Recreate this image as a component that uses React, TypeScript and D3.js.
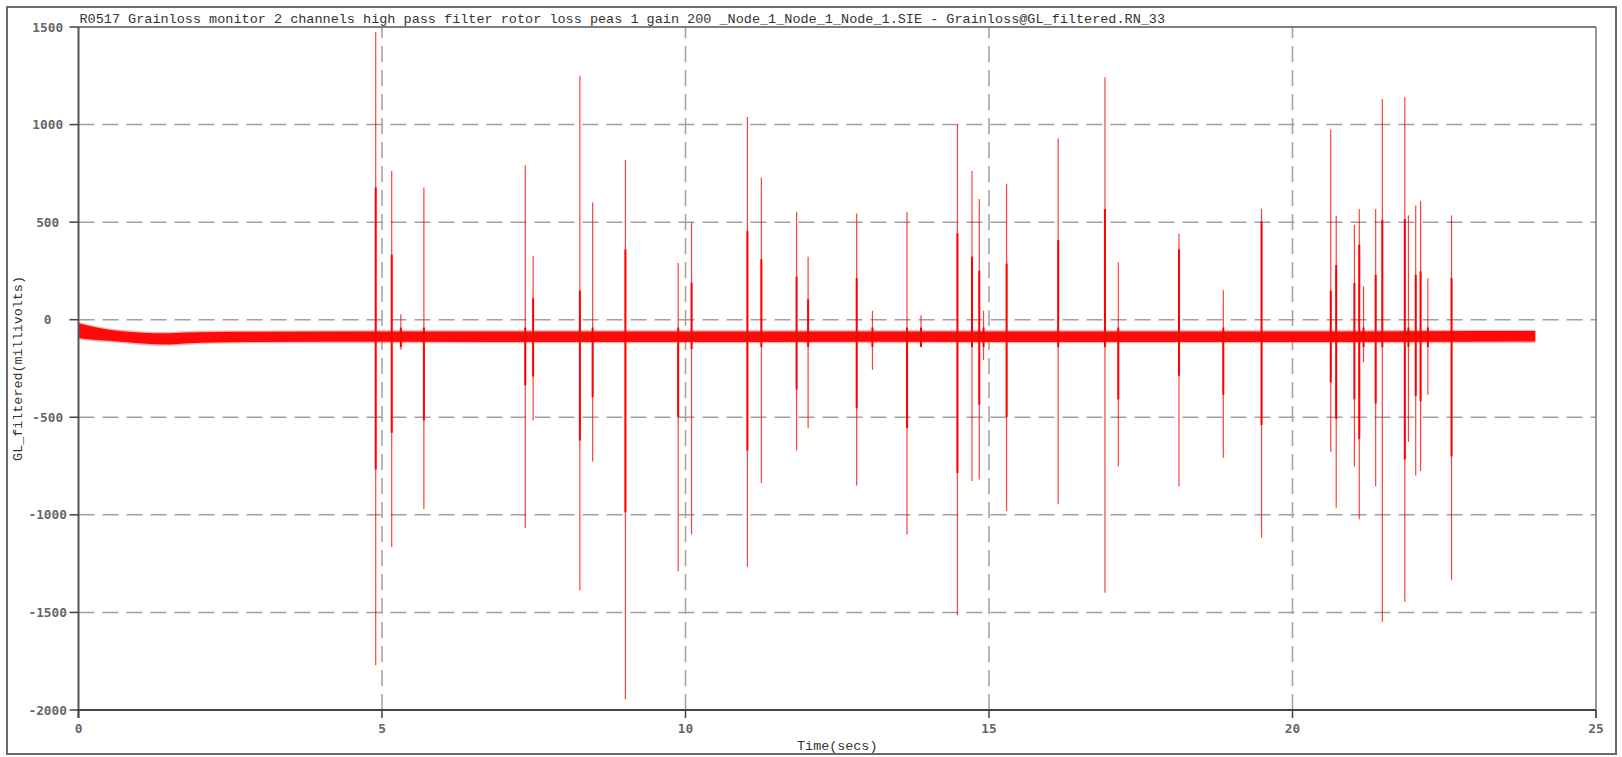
import React, { useEffect } from "react";
import * as d3 from "d3";

// ---------- data ----------
const titleText =
  "R0517 Grainloss monitor 2 channels high pass filter rotor loss peas 1 gain 200 _Node_1_Node_1_Node_1.SIE - Grainloss@GL_filtered.RN_33";
const xLabel = "Time(secs)";
const yLabel = "GL_filtered(millivolts)";

const xTicks = [0, 5, 10, 15, 20, 25];
const yTicks = [-2000, -1500, -1000, -500, 0, 500, 1000, 1500];
const xGrid = [5, 10, 15, 20];
const yGrid = [-1500, -1000, -500, 0, 500, 1000];

// baseline noise band envelope (secs, mV)
const bandTimes = [0, 0.05, 0.15, 0.3, 0.5, 0.75, 1.0, 1.25, 1.5, 1.75, 2.0, 2.5, 3.0, 4.0, 5.0, 7.0, 9.0, 11.0, 13.0, 15.0, 17.0, 19.0, 21.0, 23.0, 24.0];
const bandUpper = [-18, -22, -30, -40, -52, -60, -66, -70, -70, -66, -64, -62, -62, -61, -60, -60, -60, -60, -60, -60, -60, -60, -60, -58, -58];
const bandLower = [-92, -96, -100, -104, -108, -114, -121, -126, -127, -122, -118, -115, -114, -113, -113, -114, -114, -114, -113, -114, -114, -114, -114, -113, -112];

// spike events
const spikeTimes = [4.896, 5.16, 5.31, 5.69, 7.36, 7.49, 8.26, 8.47, 9.01, 9.88, 10.10, 11.02, 11.25, 11.83, 12.02, 12.82, 13.08, 13.65, 13.88, 14.48, 14.72, 14.84, 14.91, 15.29, 16.14, 16.91, 17.13, 18.13, 18.86, 19.49, 20.63, 20.72, 21.02, 21.10, 21.17, 21.37, 21.48, 21.85, 21.91, 22.03, 22.11, 22.23, 22.62];
const spikeMax = [1473, 762, 28, 677, 791, 328, 1250, 601, 819, 291, 500, 1039, 729, 553, 323, 544, 46, 553, 23, 1000, 762, 619, 46, 697, 929, 1243, 294, 440, 151, 569, 973, 532, 486, 567, 172, 567, 1131, 1140, 535, 585, 608, 213, 535];
const spikeMin = [-1771, -1165, -154, -970, -1067, -516, -1388, -727, -1945, -1289, -1101, -1266, -837, -670, -555, -849, -257, -1101, -130, -1514, -826, -819, -206, -980, -945, -1399, -752, -853, -707, -1117, -677, -963, -752, -1023, -218, -853, -1548, -1445, -626, -798, -775, -385, -1335];
const innerMax = [677, 333, -40, -40, -40, 110, 149, -40, 360, -40, 190, 454, 310, 220, 105, 213, -40, -40, -40, 443, 323, 252, -40, 287, 408, 567, -40, 360, -40, 505, 149, 280, 188, 385, -40, 229, 512, 516, -40, 229, 248, -40, 213];
const innerMin = [-768, -580, -140, -516, -337, -291, -619, -397, -986, -500, -150, -670, -140, -358, -140, -454, -140, -555, -140, -785, -140, -436, -140, -498, -140, -140, -408, -287, -385, -539, -321, -509, -408, -612, -140, -429, -140, -716, -140, -390, -418, -140, -700];

// ---------- layout ----------
const W = 1622;
const H = 757;
const left = 78.5;
const right = 1596;
const top = 27;
const bottom = 710;

export default function App() {
  useEffect(() => {
    document.body.style.margin = "0";
    document.body.style.overflow = "hidden";
  }, []);

  const x = d3.scaleLinear().domain([0, 25]).range([left, right]);
  const y = d3.scaleLinear().domain([-2000, 1500]).range([bottom, top]);

  const band = bandTimes.map((t, i) => ({ t, hi: bandUpper[i], lo: bandLower[i] }));
  const areaGen = d3
    .area<{ t: number; hi: number; lo: number }>()
    .x((d) => x(d.t))
    .y0((d) => y(d.lo))
    .y1((d) => y(d.hi));
  const outerGen = d3
    .area<{ t: number; hi: number; lo: number }>()
    .x((d) => x(d.t))
    .y0((d) => y(d.lo - 7))
    .y1((d) => y(d.hi + 7));

  const tickFont = "'DejaVu Sans Mono', monospace";
  const textFont = "'Liberation Mono', 'Courier New', monospace";

  return (
    <svg
      width={W}
      height={H}
      style={{ position: "absolute", left: 0, top: 0, background: "#fff" }}
    >
      {/* outer frame */}
      <rect x={7} y={7} width={1609} height={747} fill="#fff" stroke="#6a6a6a" strokeWidth={2} />

      {/* title */}
      <text x={79.5} y={23} fontFamily={textFont} fontSize={13.5} fill="#333">
        {titleText}
      </text>

      {/* grid */}
      {yGrid.map((v) => (
        <line
          key={"gy" + v}
          x1={left}
          x2={right}
          y1={y(v)}
          y2={y(v)}
          stroke="#a0a0a0"
          strokeWidth={1.5}
          strokeDasharray="16 8"
        />
      ))}
      {xGrid.map((v) => (
        <line
          key={"gx" + v}
          x1={x(v)}
          x2={x(v)}
          y1={bottom}
          y2={top}
          stroke="#a0a0a0"
          strokeWidth={1.5}
          strokeDasharray="16 8"
        />
      ))}

      {/* noise band */}
      <path d={outerGen(band) || ""} fill="#ff0000" opacity={0.3} />
      <path d={areaGen(band) || ""} fill="#ff0000" opacity={0.95} />

      {/* spikes */}
      {spikeTimes.map((t, i) => (
        <g key={"s" + i}>
          <line
            x1={x(t)}
            x2={x(t)}
            y1={y(spikeMax[i])}
            y2={y(spikeMin[i])}
            stroke="#ff0000"
            strokeWidth={1.2}
            opacity={0.75}
          />
          <line
            x1={x(t)}
            x2={x(t)}
            y1={y(innerMax[i])}
            y2={y(innerMin[i])}
            stroke="#ff0000"
            strokeWidth={2}
          />
        </g>
      ))}

      {/* plot frame */}
      <line x1={left} x2={right} y1={top} y2={top} stroke="#555" strokeWidth={1.5} />
      <line x1={right} x2={right} y1={top} y2={bottom + 8} stroke="#777" strokeWidth={1.5} />
      <line x1={left} x2={left} y1={top} y2={bottom + 8} stroke="#555" strokeWidth={2} />
      <line x1={left - 1} x2={right} y1={bottom} y2={bottom} stroke="#444" strokeWidth={2} />

      {/* y ticks */}
      {yTicks.map((v) => (
        <g key={"yt" + v}>
          <line x1={left - 9} x2={left} y1={y(v)} y2={y(v)} stroke="#444" strokeWidth={1.5} />
          <text
            x={47.7}
            y={y(v)}
            textAnchor="middle"
            dominantBaseline="central"
            fontFamily={tickFont}
            fontWeight="bold"
            fontSize={12.8}
            fill="#666"
          >
            {v}
          </text>
        </g>
      ))}

      {/* x ticks */}
      {xTicks.map((v) => (
        <g key={"xt" + v}>
          <line x1={x(v)} x2={x(v)} y1={bottom} y2={bottom + 8} stroke="#444" strokeWidth={1.5} />
          <text
            x={x(v)}
            y={728}
            textAnchor="middle"
            dominantBaseline="central"
            fontFamily={tickFont}
            fontWeight="bold"
            fontSize={12.8}
            fill="#666"
          >
            {v}
          </text>
        </g>
      ))}

      {/* axis titles */}
      <text
        x={(left + right) / 2}
        y={750}
        textAnchor="middle"
        fontFamily={textFont}
        fontSize={13.4}
        fill="#333"
      >
        {xLabel}
      </text>
      <text
        transform={`translate(22,${(top + bottom) / 2}) rotate(-90)`}
        textAnchor="middle"
        fontFamily={textFont}
        fontSize={13.4}
        fill="#333"
      >
        {yLabel}
      </text>
    </svg>
  );
}
